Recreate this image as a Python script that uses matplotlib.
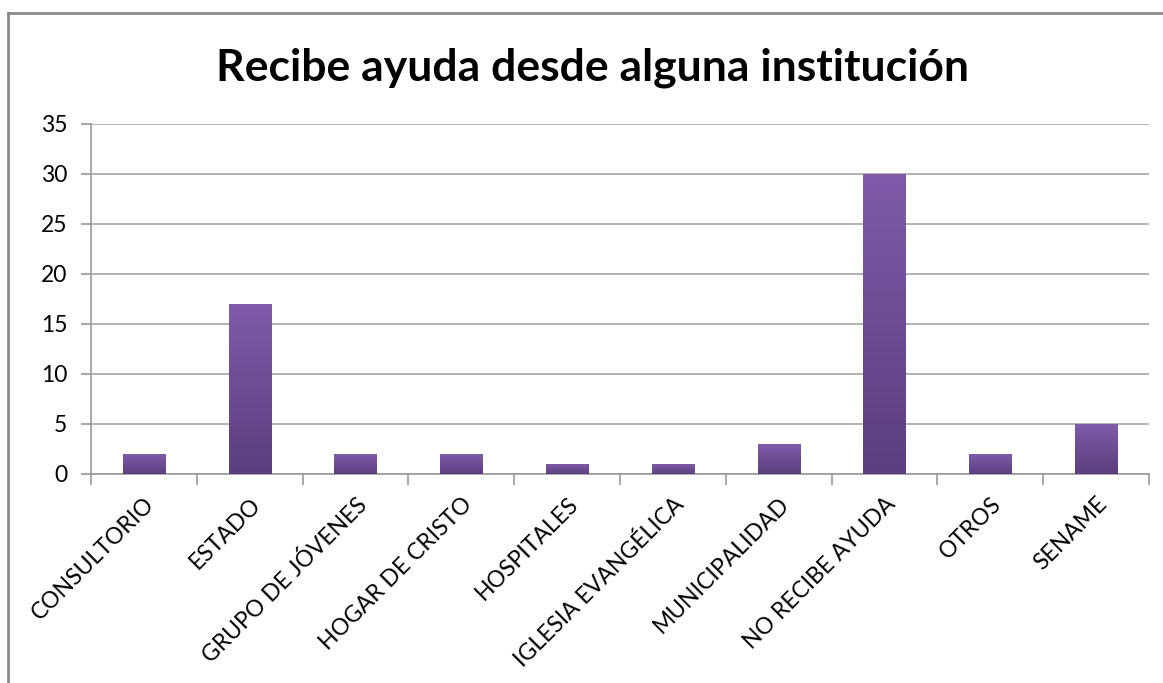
import numpy as np
import matplotlib.pyplot as plt
from matplotlib.colors import LinearSegmentedColormap
from matplotlib.lines import Line2D

categorias = ["CONSULTORIO", "ESTADO", "GRUPO DE JÓVENES", "HOGAR DE CRISTO",
              "HOSPITALES", "IGLESIA EVANGÉLICA", "MUNICIPALIDAD",
              "NO RECIBE AYUDA", "OTROS", "SENAME"]
valores = [2, 17, 2, 2, 1, 1, 3, 30, 2, 5]
y_ticks = [0, 5, 10, 15, 20, 25, 30, 35]

plt.rcParams['font.family'] = ['Lato', 'DejaVu Sans']

W, H = 1163, 683
fig = plt.figure(figsize=(W/100, H/100), dpi=100)
ax = fig.add_axes([91/W, 1-474/H, (1149-91)/W, (474-124)/H])

# gradiente morado (claro arriba, oscuro abajo)
cmap = LinearSegmentedColormap.from_list("morado", ["#5B3F7E", "#7F5BA9"])
grad = np.linspace(0, 1, 256).reshape(-1, 1)
ancho = 0.4
x = np.arange(len(categorias))
for xi, v in zip(x, valores):
    ax.imshow(grad, cmap=cmap, origin='lower', aspect='auto',
              extent=(xi-ancho/2, xi+ancho/2, 0, v), zorder=3)

ax.set_xlim(-0.5, len(categorias)-0.5)
ax.set_ylim(0, 35)
ax.set_yticks(y_ticks)
ax.set_yticklabels([str(t) for t in y_ticks], fontsize=16.5)
ax.yaxis.grid(True, color='#A6A6A6', linewidth=1.2, zorder=0)
ax.set_axisbelow(True)

# ticks del eje x en los bordes de categoria, etiquetas en el centro
ax.set_xticks(np.arange(-0.5, len(categorias)), minor=False)
ax.set_xticklabels([])
ax.set_xticks(x, minor=True)
ax.set_xticklabels(categorias, minor=True, rotation=45, ha='right',
                   rotation_mode='anchor', fontsize=16.5)
ax.tick_params(axis='x', which='minor', length=0, pad=14)
ax.tick_params(axis='x', which='major', length=8, color='#999999', width=1.2)
ax.tick_params(axis='y', length=7, color='#999999', width=1.2, pad=10)

for s in ['top', 'right']:
    ax.spines[s].set_visible(False)
for s in ['left', 'bottom']:
    ax.spines[s].set_color('#999999')
    ax.spines[s].set_linewidth(1.2)

fig.text(593/W, 1-68/H, "Recibe ayuda desde alguna institución",
         ha='center', va='center', fontsize=32, fontweight='bold')

# marco del grafico
fig.add_artist(Line2D([8/W, 8/W], [0, 1-13/H], color='#8A8A8A', linewidth=2,
                      transform=fig.transFigure))
fig.add_artist(Line2D([8/W, 1], [1-13/H, 1-13/H], color='#8A8A8A', linewidth=2,
                      transform=fig.transFigure))

fig.savefig("out.png", dpi=100)
